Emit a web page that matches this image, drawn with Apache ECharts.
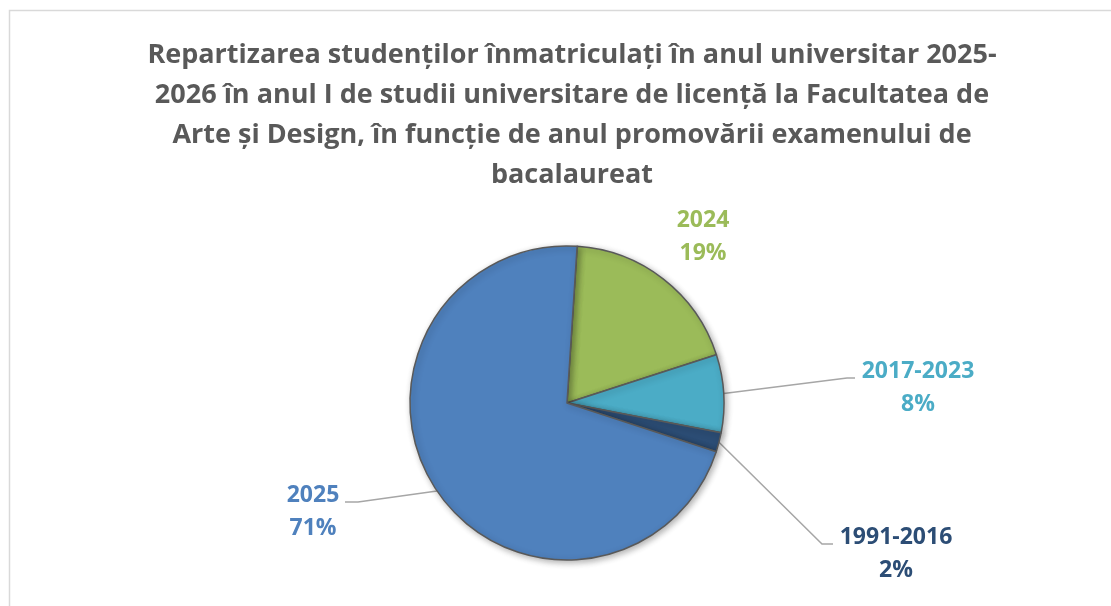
<!DOCTYPE html>
<html>
<head>
<meta charset="utf-8">
<script src="https://cdn.jsdelivr.net/npm/echarts@6/dist/echarts.min.js"></script>
<style>
  html, body { margin: 0; padding: 0; background: #ffffff; }
  #chart { width: 1111px; height: 606px; }
</style>
</head>
<body>
<div id="chart"></div>
<script>
// Data
var categories = ['2024', '2017-2023', '1991-2016', '2025'];   // slice order, clockwise from the top
var shares = [19, 8, 2, 71];                                     // percent of students
var sliceColors = ['#9BBB59', '#4BACC6', '#2C4D75', '#4F81BD'];

// Where each data label sits, and the leader line elbows
var labelSpots = [[703, 237], [918, 388], [896, 554], [313, 512]];
var lineBends = [null, [847, 378], [822, 544], [358, 502]];
var lineEnds = [null, [855, 378], [833, 544], [345, 502]];

var titleText = 'Repartizarea studenților înmatriculați în anul universitar 2025-\n' +
  '2026 în anul I de studii universitare de licență la Facultatea de\n' +
  'Arte și Design, în funcție de anul promovării examenului de\n' +
  'bacalaureat';

var chart = echarts.init(document.getElementById('chart'));

var pieData = categories.map(function (name, i) {
  return {
    name: name,
    value: shares[i],
    itemStyle: { color: sliceColors[i] },
    label: { color: sliceColors[i] },
    labelLine: { show: lineEnds[i] != null }
  };
});

chart.setOption({
  animation: false,
  backgroundColor: '#ffffff',
  graphic: [{
    // outer chart frame (right and bottom edges fall outside the view)
    type: 'rect',
    shape: { x: 9.5, y: 10.5, width: 1300, height: 800 },
    style: { fill: 'none', stroke: '#d9d9d9', lineWidth: 1.5 },
    silent: true,
    z: -1
  }],
  title: {
    text: titleText,
    left: 567,
    top: 30,
    textAlign: 'center',
    textStyle: {
      fontFamily: 'Open Sans',
      fontWeight: 'bold',
      fontSize: 27,
      lineHeight: 40,
      color: '#595959'
    }
  },
  series: [{
    type: 'pie',
    center: [567, 403],
    radius: 157,
    startAngle: 86.3,
    clockwise: true,
    itemStyle: {
      borderColor: '#595959',
      borderWidth: 1.5,
      shadowBlur: 6,
      shadowOffsetX: 2,
      shadowOffsetY: 2,
      shadowColor: 'rgba(0,0,0,0.3)'
    },
    label: {
      show: true,
      position: 'outside',
      fontFamily: 'Open Sans',
      fontWeight: 'bold',
      fontSize: 23,
      lineHeight: 33,
      formatter: function (p) {
        return p.name + '\n' + Math.round(p.percent) + '%';
      }
    },
    labelLine: {
      show: true,
      lineStyle: { color: '#a6a6a6', width: 1.5 }
    },
    labelLayout: function (params) {
      var i = params.dataIndex;
      var spot = labelSpots[i];
      var out = { x: spot[0], y: spot[1], align: 'center', verticalAlign: 'middle' };
      if (lineEnds[i] && params.labelLinePoints) {
        out.labelLinePoints = [params.labelLinePoints[0], lineBends[i], lineEnds[i]];
      }
      return out;
    },
    data: pieData
  }]
});
</script>
</body>
</html>
